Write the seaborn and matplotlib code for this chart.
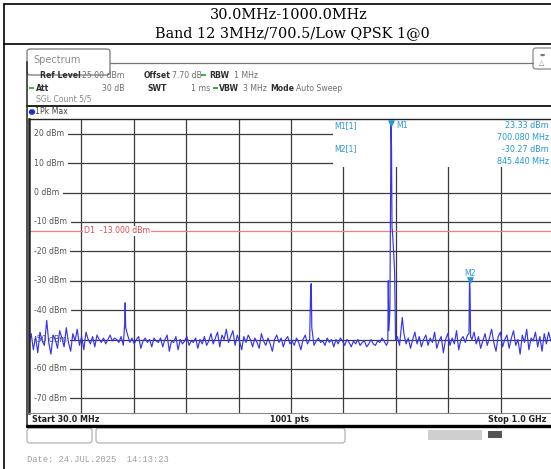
import numpy as np
import pandas as pd
import seaborn as sns
import matplotlib.pyplot as plt
from matplotlib.lines import Line2D
from matplotlib.patches import FancyBboxPatch, Rectangle, Circle
from matplotlib import transforms

W, H = 551, 469

# sweep settings
start_mhz = 30.0
stop_mhz = 1000.0
ref_level = 25.0
bottom_level = -75.0
limit_dbm = -13.0

# noise floor of the max-hold trace (evenly spaced over the sweep)
noise_dbm = [
    -51.5, -48.0, -53.5, -49.0, -54.5, -47.5, -50.5, -52.0, -46.5, -51.0, -55.0, -48.5, -50.0, -53.0, -47.0, -49.5, -52.5, -46.0, -51.0, -54.0,
    -48.0, -50.5, -46.5, -52.0, -49.0, -53.5, -47.5, -50.0, -51.5, -49.0, -52.5, -48.5, -50.0, -51.0, -49.5, -51.5, -50.0, -48.5, -50.5, -49.5,
    -50.0, -51.0, -49.0, -52.0, -50.5, -48.5, -51.0, -49.5, -51.5, -50.0, -49.0, -53.0, -50.5, -49.5, -51.0, -50.0, -52.5, -49.5, -50.5, -51.0,
    -49.5, -52.5, -50.0, -48.5, -54.0, -50.5, -51.0, -49.0, -53.5, -50.0, -51.5, -50.5, -49.0, -52.0, -50.5, -51.0, -49.5, -53.0, -50.0, -51.5,
    -49.0, -52.0, -50.5, -48.0, -51.5, -49.5, -47.5, -52.5, -48.5, -50.0, -46.5, -51.0, -49.0, -47.0, -52.0, -48.5, -50.5, -53.5, -49.0, -51.0,
    -48.5, -50.0, -52.5, -49.5, -51.0, -53.0, -48.0, -50.5, -52.0, -49.5, -51.5, -54.0, -50.0, -48.5, -51.0, -49.5, -52.5, -50.0, -49.0, -51.5,
    -50.5, -52.0, -49.5, -51.0, -53.5, -50.0, -48.5, -51.5, -50.0, -49.0, -52.0, -50.5, -49.5, -51.0, -50.5, -52.0, -49.5, -51.0, -50.0, -52.5,
    -50.0, -51.5, -49.5, -50.5, -52.0, -50.0, -51.0, -52.5, -50.5, -51.5, -50.0, -52.0, -51.0, -50.5, -52.5, -51.5, -50.0, -51.5, -52.0, -50.5,
    -51.0, -49.5, -50.5, -52.0, -50.0, -51.0, -48.5, -51.0, -49.0, -52.0, -50.5, -48.0, -51.5, -49.5, -53.0, -50.0, -47.5, -51.5, -49.0, -52.5,
    -50.0, -48.5, -52.0, -49.5, -51.0, -47.5, -53.0, -50.5, -49.0, -54.5, -50.0, -48.0, -52.0, -49.5, -51.5, -47.0, -53.5, -50.0, -49.0, -51.0,
    -48.5, -52.5, -50.0, -47.5, -51.5, -49.0, -53.0, -50.5, -48.0, -52.0, -49.5, -46.5, -51.0, -54.0, -49.0, -47.5, -52.5, -50.0, -48.5, -53.0,
    -49.5, -47.0, -52.0, -50.0, -55.0, -48.5, -51.0, -46.5, -53.5, -49.5, -50.5, -47.5, -52.5, -49.0, -54.0, -48.0, -51.5, -47.5, -50.5, -49.0,
]

# emissions standing out of the floor
spike_freq = [62.8, 207.0, 208.0, 209.0, 551.5, 552.5, 553.5,
              694.2, 695.1, 696.1, 698.1, 699.1, 700.08, 701.05, 702.0, 703.0, 704.9, 706.8, 708.5,
              721.0, 844.5, 845.44, 846.4, 847.4]
spike_dbm = [-43.5, -45.0, -37.5, -46.0, -32.0, -31.0, -46.0,
             -51.0, -30.0, -47.0, -40.0, -5.0, 23.33, 15.5, -12.0, -14.0, -20.0, -27.0, -50.0,
             -42.5, -48.0, -30.27, -33.0, -49.0]

marker_names = ['M1', 'M2']
marker_freq = [700.08, 845.44]
marker_dbm = [23.33, -30.27]

y_ticks = [20, 10, 0, -10, -20, -30, -40, -50, -60, -70]

# build the trace
noise_freq = np.linspace(start_mhz, stop_mhz, len(noise_dbm))
noise = pd.DataFrame({'freq': noise_freq, 'dbm': noise_dbm})
near = np.array([np.min(np.abs(np.array(spike_freq) - f)) < 2.0 for f in noise_freq])
noise = noise[~near]
trace = pd.concat([noise, pd.DataFrame({'freq': spike_freq, 'dbm': spike_dbm})])
trace = trace.sort_values('freq').reset_index(drop=True)

sns.set_style('white')
plt.rcParams['font.family'] = ['DejaVu Sans']

fig = plt.figure(figsize=(W / 100, H / 100), dpi=100)
fig.patch.set_facecolor('white')


def fx(x):
    return x / W


def fy(y):
    return 1 - y / H


def hline(y, x0, x1, **kw):
    fig.add_artist(Line2D([fx(x0), fx(x1)], [fy(y), fy(y)], transform=fig.transFigure, **kw))


def vline(x, y0, y1, **kw):
    fig.add_artist(Line2D([fx(x), fx(x)], [fy(y0), fy(y1)], transform=fig.transFigure, **kw))


def rbox(x0, y0, x1, y1, **kw):
    fig.add_artist(FancyBboxPatch((fx(x0), fy(y1)), fx(x1) - fx(x0), fy(y0) - fy(y1),
                                  boxstyle='round,pad=0,rounding_size=0.006',
                                  transform=fig.transFigure, **kw))


# document table frame and header
hline(4, 4, 560, color='black', lw=1.2)
hline(44, 4, 560, color='black', lw=1.2)
vline(4, 4, 475, color='black', lw=1.2)
fig.text(fx(289), fy(15), '30.0MHz-1000.0MHz', ha='center', va='center',
         family='DejaVu Serif', fontsize=10.4, color='black')
fig.text(fx(292), fy(33), 'Band 12 3MHz/700.5/Low QPSK 1@0', ha='center', va='center',
         family='DejaVu Serif', fontsize=10.4, color='black')

# spectrum window chrome
rbox(27, 49, 110, 75, facecolor='white', edgecolor='#777777', lw=0.9)
fig.add_artist(Rectangle((fx(28), fy(70)), fx(81), fy(62) - fy(70), transform=fig.transFigure,
                         facecolor='white', edgecolor='none'))
hline(63, 110, 533, color='#777777', lw=0.9)
fig.text(fx(33), fy(60), 'Spectrum', ha='left', va='center', fontsize=7, color='#8c8c8c')
rbox(533, 48, 556, 69, facecolor='white', edgecolor='#888888', lw=0.9)
fig.text(fx(542), fy(55), '\u25ac', ha='center', va='center', fontsize=4, color='#777777')
fig.text(fx(542), fy(63), '\u25b3', ha='center', va='center', fontsize=5, color='#777777')
vline(27, 62, 427, color='#333333', lw=1.2)

fs = 5.6
lab = '#2e2e2e'
val = '#6e6e6e'
fig.text(fx(40), fy(75), 'Ref Level', fontsize=fs, weight='bold', color=lab, va='center')
fig.text(fx(82), fy(75), '25.00 dBm', fontsize=fs, color=val, va='center')
fig.text(fx(144), fy(75), 'Offset', fontsize=fs, weight='bold', color=lab, va='center')
fig.text(fx(172), fy(75), '7.70 dB', fontsize=fs, color=val, va='center')
fig.text(fx(209), fy(75), 'RBW', fontsize=fs, weight='bold', color=lab, va='center')
fig.text(fx(234), fy(75), '1 MHz', fontsize=fs, color=val, va='center')
fig.text(fx(36), fy(88), 'Att', fontsize=fs, weight='bold', color=lab, va='center')
fig.text(fx(125), fy(88), '30 dB', fontsize=fs, color=val, va='center', ha='right')
fig.text(fx(147), fy(88), 'SWT', fontsize=fs, weight='bold', color=lab, va='center')
fig.text(fx(210), fy(88), '1 ms', fontsize=fs, color=val, va='center', ha='right')
fig.text(fx(219), fy(88), 'VBW', fontsize=fs, weight='bold', color=lab, va='center')
fig.text(fx(243), fy(88), '3 MHz', fontsize=fs, color=val, va='center')
fig.text(fx(270), fy(88), 'Mode', fontsize=fs, weight='bold', color=lab, va='center')
fig.text(fx(296), fy(88), 'Auto Sweep', fontsize=fs, color=val, va='center')
fig.text(fx(36), fy(99), 'SGL Count 5/5', fontsize=fs, color='#888888', va='center')
for gx, gy in [(201, 75), (213, 88), (29, 88)]:
    fig.add_artist(Rectangle((fx(gx), fy(gy + 1)), fx(5), fy(0) - fy(2.2), transform=fig.transFigure,
                             facecolor='#3cb043', edgecolor='none'))

# trace label bar
hline(106, 27, 560, color='#222222', lw=1.4)
fig.add_artist(Circle((fx(32), fy(112)), 0.0045, transform=fig.transFigure, color='#1530d8'))
fig.text(fx(35), fy(112), '1Pk Max', fontsize=fs, color='#444444', va='center')

# the trace window
ax = fig.add_axes([fx(29), fy(413), fx(524), fy(119) - fy(413)])
ax.set_xlim(start_mhz, stop_mhz)
ax.set_ylim(bottom_level, ref_level)
ax.set_xticks(np.linspace(start_mhz, stop_mhz, 11)[1:-1])
ax.set_yticks(y_ticks)
ax.tick_params(length=0, labelbottom=False, labelleft=False)
ax.set_axisbelow(True)
ax.grid(True, color='#3c3c3c', lw=0.9)
for side, sp in ax.spines.items():
    sp.set_color('#222222')
ax.spines['left'].set_linewidth(1.8)
ax.spines['top'].set_linewidth(1.0)
ax.spines['bottom'].set_linewidth(0.8)
ax.spines['bottom'].set_color('#888888')

# marker table area hides the grid
ax.add_patch(Rectangle(((333 - 29) / 524, (413 - 167) / 294), 1, 1, transform=ax.transAxes,
                       facecolor='white', edgecolor='none', zorder=1))

for t in y_ticks:
    ax.text((34 - 29) / 524, t, f'{t} dBm', transform=ax.get_yaxis_transform(), fontsize=5.6,
            color='#555555', ha='left', va='center', zorder=1.5,
            bbox=dict(facecolor='white', edgecolor='none', pad=2.6))

ax.axhline(limit_dbm, color='#f07f7f', lw=0.9, zorder=1.6)
ax.text((84 - 29) / 524, limit_dbm, 'D1  -13.000 dBm', transform=ax.get_yaxis_transform(),
        fontsize=5.6, color='#e24a4a', ha='left', va='center', zorder=1.7,
        bbox=dict(facecolor='white', edgecolor='none', pad=0.4))

sns.lineplot(data=trace, x='freq', y='dbm', sort=False, estimator=None, color='#3535ee',
             lw=0.85, ax=ax, zorder=2)
ax.set_xlabel('')
ax.set_ylabel('')

mk = '#2597d6'
tri = transforms.offset_copy(ax.transData, fig=fig, y=1.0, units='points')
ax.scatter(marker_freq, marker_dbm, marker='v', s=14, color=mk, transform=tri, zorder=3, clip_on=False)
ax.annotate(marker_names[0], (marker_freq[0], marker_dbm[0]), xytext=(4, -1.5), textcoords='offset points',
            fontsize=5.6, color=mk, ha='left', va='center', zorder=3)
ax.annotate(marker_names[1], (marker_freq[1], marker_dbm[1]), xytext=(0, 6), textcoords='offset points',
            fontsize=5.6, color=mk, ha='center', va='center', zorder=3)

fig.text(fx(334), fy(126), 'M1[1]', fontsize=5.6, color=mk, va='center')
fig.text(fx(334), fy(149), 'M2[1]', fontsize=5.6, color=mk, va='center')
for yy, s in zip([126, 137.5, 149.5, 161.5],
                 [f'{marker_dbm[0]:.2f} dBm', f'{marker_freq[0]:.3f} MHz',
                  f'{marker_dbm[1]:.2f} dBm', f'{marker_freq[1]:.3f} MHz']):
    fig.text(fx(549), fy(yy), s, fontsize=5.8, color=mk, va='center', ha='right')

# lower status strip
fig.text(fx(32), fy(419), 'Start 30.0 MHz', fontsize=5.8, weight='bold', color='#222222', va='center')
fig.text(fx(290), fy(419), '1001 pts', fontsize=5.8, weight='bold', color='#222222', va='center', ha='center')
fig.text(fx(546), fy(419), 'Stop 1.0 GHz', fontsize=5.8, weight='bold', color='#222222', va='center', ha='right')
hline(426, 27, 560, color='black', lw=2.4)
rbox(27, 428, 92, 443, facecolor='white', edgecolor='#aaaaaa', lw=0.8)
rbox(96, 428, 345, 443, facecolor='white', edgecolor='#aaaaaa', lw=0.8)
fig.add_artist(Rectangle((fx(428), fy(440)), fx(54), fy(430) - fy(440), transform=fig.transFigure,
                         facecolor='#cfcfcf', edgecolor='none'))
fig.add_artist(Rectangle((fx(488), fy(438)), fx(14), fy(431) - fy(438), transform=fig.transFigure,
                         facecolor='#555555', edgecolor='none'))
fig.text(fx(27), fy(459), 'Date: 24.JUL.2025  14:13:23', fontsize=6.3, family='Liberation Mono',
         color='#a0a0a0', va='center')

fig.savefig('out.png', dpi=100)
